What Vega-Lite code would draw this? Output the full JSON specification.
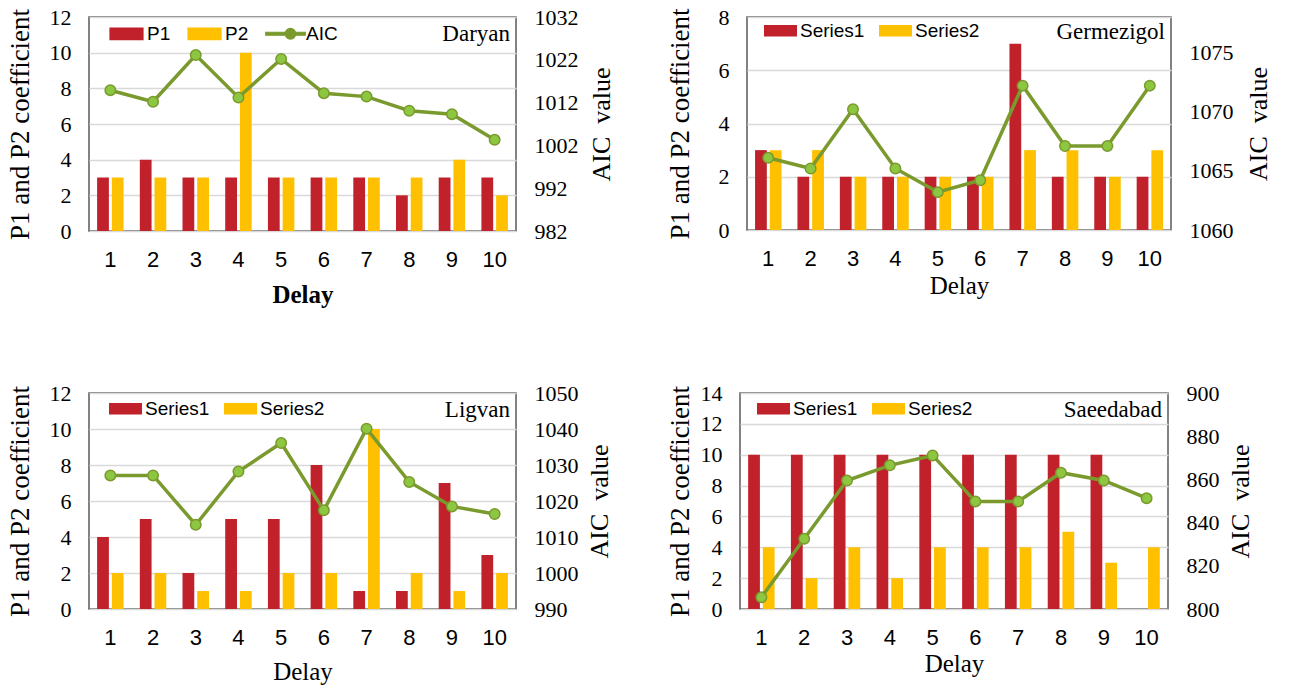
{
  "$schema": "https://vega.github.io/schema/vega-lite/v6.json",
  "background": "white",
  "padding": 5,
  "config": {
    "font": "Liberation Serif",
    "view": {"stroke": "#595959", "strokeWidth": 1.5},
    "axis": {"domain": false, "ticks": false, "labelColor": "black", "titleColor": "black", "labelFont": "Liberation Serif", "titleFont": "Liberation Serif", "titleFontWeight": "normal", "gridColor": "#d9d9d9", "gridWidth": 1.5},
    "axisX": {"labelFont": "Liberation Sans", "labelFontSize": 22, "labelAngle": 0, "labelPadding": 18, "titleFont": "Liberation Serif", "titleFontSize": 25, "grid": false},
    "legend": {"orient": "none", "direction": "horizontal", "title": null, "symbolType": "M-1,-0.35H1V0.35H-1Z", "symbolSize": 1089, "symbolStrokeWidth": 0, "labelFont": "Liberation Sans", "labelFontSize": 19, "labelColor": "black", "labelOffset": 3, "columnPadding": 14},
    "title": {"font": "Liberation Serif", "fontSize": 23, "fontWeight": "normal", "color": "black", "anchor": "end", "frame": "group", "offset": -40, "dx": -6}
  },
  "datasets": {
    "daryan": [
      {"delay": 1, "P1": 3, "P2": 3, "AIC": 1014.9},
      {"delay": 2, "P1": 4, "P2": 3, "AIC": 1012.2},
      {"delay": 3, "P1": 3, "P2": 3, "AIC": 1023.1},
      {"delay": 4, "P1": 3, "P2": 10, "AIC": 1013.2},
      {"delay": 5, "P1": 3, "P2": 3, "AIC": 1022.2},
      {"delay": 6, "P1": 3, "P2": 3, "AIC": 1014.2},
      {"delay": 7, "P1": 3, "P2": 3, "AIC": 1013.4},
      {"delay": 8, "P1": 2, "P2": 3, "AIC": 1010.1},
      {"delay": 9, "P1": 3, "P2": 4, "AIC": 1009.3},
      {"delay": 10, "P1": 3, "P2": 2, "AIC": 1003.3}
    ],
    "germezigol": [
      {"delay": 1, "P1": 3, "P2": 3, "AIC": 1066.1},
      {"delay": 2, "P1": 2, "P2": 3, "AIC": 1065.2},
      {"delay": 3, "P1": 2, "P2": 2, "AIC": 1070.2},
      {"delay": 4, "P1": 2, "P2": 2, "AIC": 1065.2},
      {"delay": 5, "P1": 2, "P2": 2, "AIC": 1063.2},
      {"delay": 6, "P1": 2, "P2": 2, "AIC": 1064.2},
      {"delay": 7, "P1": 7, "P2": 3, "AIC": 1072.2},
      {"delay": 8, "P1": 2, "P2": 3, "AIC": 1067.1},
      {"delay": 9, "P1": 2, "P2": 2, "AIC": 1067.1},
      {"delay": 10, "P1": 2, "P2": 3, "AIC": 1072.2}
    ],
    "ligvan": [
      {"delay": 1, "P1": 4, "P2": 2, "AIC": 1027.1},
      {"delay": 2, "P1": 5, "P2": 2, "AIC": 1027.1},
      {"delay": 3, "P1": 2, "P2": 1, "AIC": 1013.4},
      {"delay": 4, "P1": 5, "P2": 1, "AIC": 1028.2},
      {"delay": 5, "P1": 5, "P2": 2, "AIC": 1036.1},
      {"delay": 6, "P1": 8, "P2": 2, "AIC": 1017.4},
      {"delay": 7, "P1": 1, "P2": 10, "AIC": 1040.1},
      {"delay": 8, "P1": 1, "P2": 2, "AIC": 1025.3},
      {"delay": 9, "P1": 7, "P2": 1, "AIC": 1018.5},
      {"delay": 10, "P1": 3, "P2": 2, "AIC": 1016.4}
    ],
    "saeedabad": [
      {"delay": 1, "P1": 10, "P2": 4, "AIC": 805.4},
      {"delay": 2, "P1": 10, "P2": 2, "AIC": 832.5},
      {"delay": 3, "P1": 10, "P2": 4, "AIC": 859.5},
      {"delay": 4, "P1": 10, "P2": 2, "AIC": 866.5},
      {"delay": 5, "P1": 10, "P2": 4, "AIC": 871.1},
      {"delay": 6, "P1": 10, "P2": 4, "AIC": 849.8},
      {"delay": 7, "P1": 10, "P2": 4, "AIC": 849.8},
      {"delay": 8, "P1": 10, "P2": 5, "AIC": 863.1},
      {"delay": 9, "P1": 10, "P2": 3, "AIC": 859.5},
      {"delay": 10, "P1": 0, "P2": 4, "AIC": 851.3}
    ]
  },
  "columns": 2,
  "align": "none",
  "spacing": {"row": 73, "column": 50},
  "resolve": {"scale": {"color": "independent"}, "legend": {"color": "independent"}},
  "concat": [
    {
      "width": 427, "height": 214,
      "data": {"name": "daryan"},
      "title": {"text": "Daryan"},
      "encoding": {"x": {"field": "delay", "type": "ordinal", "scale": {"paddingInner": 0.38, "paddingOuter": 0.19}, "axis": {"title": "Delay", "titleFontWeight": "bold", "titlePadding": 12}}},
      "layer": [
        {
          "transform": [{"fold": ["P1", "P2"], "as": ["series", "coef"]}],
          "mark": {"type": "bar"},
          "encoding": {
            "xOffset": {"field": "series", "type": "nominal", "scale": {"paddingInner": 0.2}},
            "y": {"field": "coef", "type": "quantitative", "scale": {"domain": [0, 12]}, "axis": {"title": "P1 and P2 coefficient", "labelFont": "Liberation Serif", "titleFont": "Liberation Serif", "labelFontSize": 22, "titleFontSize": 27, "labelPadding": 18, "values": [0, 2, 4, 6, 8, 10, 12], "grid": true, "titlePadding": 15}},
            "color": {"field": "series", "type": "nominal", "scale": {"domain": ["P1", "P2", "AIC"], "range": ["#C0212B", "#FFC000", "#7A9A2E"]},
              "legend": {"legendX": 20, "legendY": -1,
                "encode": {"symbols": {"update": {
                  "shape": {"signal": "datum.value === 'AIC' ? 'M-1.2,-0.09H1.2V0.09H-1.2Z M0.62,0A0.32,0.32 0 1,1 -0.02,0A0.32,0.32 0 1,1 0.62,0Z' : 'M-1,-0.35H1V0.35H-1Z'"},
                  "fill": {"signal": "datum.value === 'AIC' ? '#8DC640' : datum.value === 'P1' ? '#C0212B' : '#FFC000'"},
                  "stroke": {"signal": "datum.value === 'AIC' ? '#7A9A2E' : 'transparent'"},
                  "strokeWidth": {"value": 1.2}}}}}}
          }
        },
        {
          "encoding": {"y": {"field": "AIC", "type": "quantitative", "scale": {"domain": [982, 1032]}, "axis": {"orient": "right", "title": "AIC\u00a0 value", "labelFont": "Liberation Serif", "titleFont": "Liberation Serif", "labelFontSize": 22, "labelPadding": 18, "format": "d", "titleFontSize": 26, "titleAngle": 270, "titleBaseline": "top", "titlePadding": 10, "values": [982, 992, 1002, 1012, 1022, 1032], "grid": false}}},
          "layer": [
            {"mark": {"type": "line", "strokeWidth": 3.5}, "encoding": {"color": {"datum": "AIC", "type": "nominal"}}},
            {"mark": {"type": "circle", "size": 110, "fill": "#8DC640", "stroke": "#7A9A2E", "strokeWidth": 1.5, "opacity": 1}}
          ]
        }
      ],
      "resolve": {"scale": {"y": "independent"}}
    },
    {
      "width": 424, "height": 213,
      "data": {"name": "germezigol"},
      "title": {"text": "Germezigol", "offset": -38},
      "encoding": {"x": {"field": "delay", "type": "ordinal", "scale": {"paddingInner": 0.38, "paddingOuter": 0.19}, "axis": {"title": "Delay", "titlePadding": 4}}},
      "layer": [
        {
          "transform": [{"fold": ["P1", "P2"], "as": ["series", "coef"]}],
          "mark": {"type": "bar"},
          "encoding": {
            "xOffset": {"field": "series", "type": "nominal", "scale": {"paddingInner": 0.2}},
            "y": {"field": "coef", "type": "quantitative", "scale": {"domain": [0, 8]}, "axis": {"title": "P1 and P2 coefficient", "labelFont": "Liberation Serif", "titleFont": "Liberation Serif", "labelFontSize": 22, "titleFontSize": 27, "labelPadding": 18, "values": [0, 2, 4, 6, 8], "grid": true, "titlePadding": 24}},
            "color": {"field": "series", "type": "nominal", "scale": {"domain": ["P1", "P2"], "range": ["#C0212B", "#FFC000"]},
              "legend": {"legendX": 17, "legendY": -3, "labelExpr": "datum.label === 'P1' ? 'Series1' : 'Series2'"}}
          }
        },
        {
          "encoding": {"y": {"field": "AIC", "type": "quantitative", "scale": {"domain": [1060, 1078]}, "axis": {"orient": "right", "title": "AIC\u00a0 value", "labelFont": "Liberation Serif", "titleFont": "Liberation Serif", "labelFontSize": 22, "labelPadding": 18, "format": "d", "titleFontSize": 26, "titleAngle": 270, "titleBaseline": "top", "titlePadding": 12, "values": [1060, 1065, 1070, 1075], "grid": false}}},
          "layer": [
            {"mark": {"type": "line", "strokeWidth": 3.5, "color": "#7A9A2E"}},
            {"mark": {"type": "circle", "size": 110, "fill": "#8DC640", "stroke": "#7A9A2E", "strokeWidth": 1.5, "opacity": 1}}
          ]
        }
      ],
      "resolve": {"scale": {"y": "independent"}}
    },
    {
      "width": 427, "height": 216,
      "data": {"name": "ligvan"},
      "title": {"text": "Ligvan"},
      "encoding": {"x": {"field": "delay", "type": "ordinal", "scale": {"paddingInner": 0.38, "paddingOuter": 0.19}, "axis": {"title": "Delay", "titlePadding": 11}}},
      "layer": [
        {
          "transform": [{"fold": ["P1", "P2"], "as": ["series", "coef"]}],
          "mark": {"type": "bar"},
          "encoding": {
            "xOffset": {"field": "series", "type": "nominal", "scale": {"paddingInner": 0.2}},
            "y": {"field": "coef", "type": "quantitative", "scale": {"domain": [0, 12]}, "axis": {"title": "P1 and P2 coefficient", "labelFont": "Liberation Serif", "titleFont": "Liberation Serif", "labelFontSize": 22, "titleFontSize": 27, "labelPadding": 18, "values": [0, 2, 4, 6, 8, 10, 12], "grid": true, "titlePadding": 15}},
            "color": {"field": "series", "type": "nominal", "scale": {"domain": ["P1", "P2"], "range": ["#C0212B", "#FFC000"]},
              "legend": {"legendX": 20, "legendY": -1, "labelExpr": "datum.label === 'P1' ? 'Series1' : 'Series2'"}}
          }
        },
        {
          "encoding": {"y": {"field": "AIC", "type": "quantitative", "scale": {"domain": [990, 1050]}, "axis": {"orient": "right", "title": "AIC\u00a0 value", "labelFont": "Liberation Serif", "titleFont": "Liberation Serif", "labelFontSize": 22, "labelPadding": 18, "format": "d", "titleFontSize": 26, "titleAngle": 270, "titleBaseline": "top", "titlePadding": 8, "values": [990, 1000, 1010, 1020, 1030, 1040, 1050], "grid": false}}},
          "layer": [
            {"mark": {"type": "line", "strokeWidth": 3.5, "color": "#7A9A2E"}},
            {"mark": {"type": "circle", "size": 110, "fill": "#8DC640", "stroke": "#7A9A2E", "strokeWidth": 1.5, "opacity": 1}}
          ]
        }
      ],
      "resolve": {"scale": {"y": "independent"}}
    },
    {
      "width": 428, "height": 216,
      "data": {"name": "saeedabad"},
      "title": {"text": "Saeedabad"},
      "encoding": {"x": {"field": "delay", "type": "ordinal", "scale": {"paddingInner": 0.38, "paddingOuter": 0.19}, "axis": {"title": "Delay", "titlePadding": 3}}},
      "layer": [
        {
          "transform": [{"fold": ["P1", "P2"], "as": ["series", "coef"]}],
          "mark": {"type": "bar"},
          "encoding": {
            "xOffset": {"field": "series", "type": "nominal", "scale": {"paddingInner": 0.2}},
            "y": {"field": "coef", "type": "quantitative", "scale": {"domain": [0, 14]}, "axis": {"title": "P1 and P2 coefficient", "labelFont": "Liberation Serif", "titleFont": "Liberation Serif", "labelFontSize": 22, "titleFontSize": 27, "labelPadding": 18, "values": [0, 2, 4, 6, 8, 10, 12, 14], "grid": true, "titlePadding": 6}},
            "color": {"field": "series", "type": "nominal", "scale": {"domain": ["P1", "P2"], "range": ["#C0212B", "#FFC000"]},
              "legend": {"legendX": 17, "legendY": -1, "labelExpr": "datum.label === 'P1' ? 'Series1' : 'Series2'"}}
          }
        },
        {
          "encoding": {"y": {"field": "AIC", "type": "quantitative", "scale": {"domain": [800, 900]}, "axis": {"orient": "right", "title": "AIC\u00a0 value", "labelFont": "Liberation Serif", "titleFont": "Liberation Serif", "labelFontSize": 22, "labelPadding": 18, "format": "d", "titleFontSize": 26, "titleAngle": 270, "titleBaseline": "top", "titlePadding": 8, "values": [800, 820, 840, 860, 880, 900], "grid": false}}},
          "layer": [
            {"mark": {"type": "line", "strokeWidth": 3.5, "color": "#7A9A2E"}},
            {"mark": {"type": "circle", "size": 110, "fill": "#8DC640", "stroke": "#7A9A2E", "strokeWidth": 1.5, "opacity": 1}}
          ]
        }
      ],
      "resolve": {"scale": {"y": "independent"}}
    }
  ]
}
